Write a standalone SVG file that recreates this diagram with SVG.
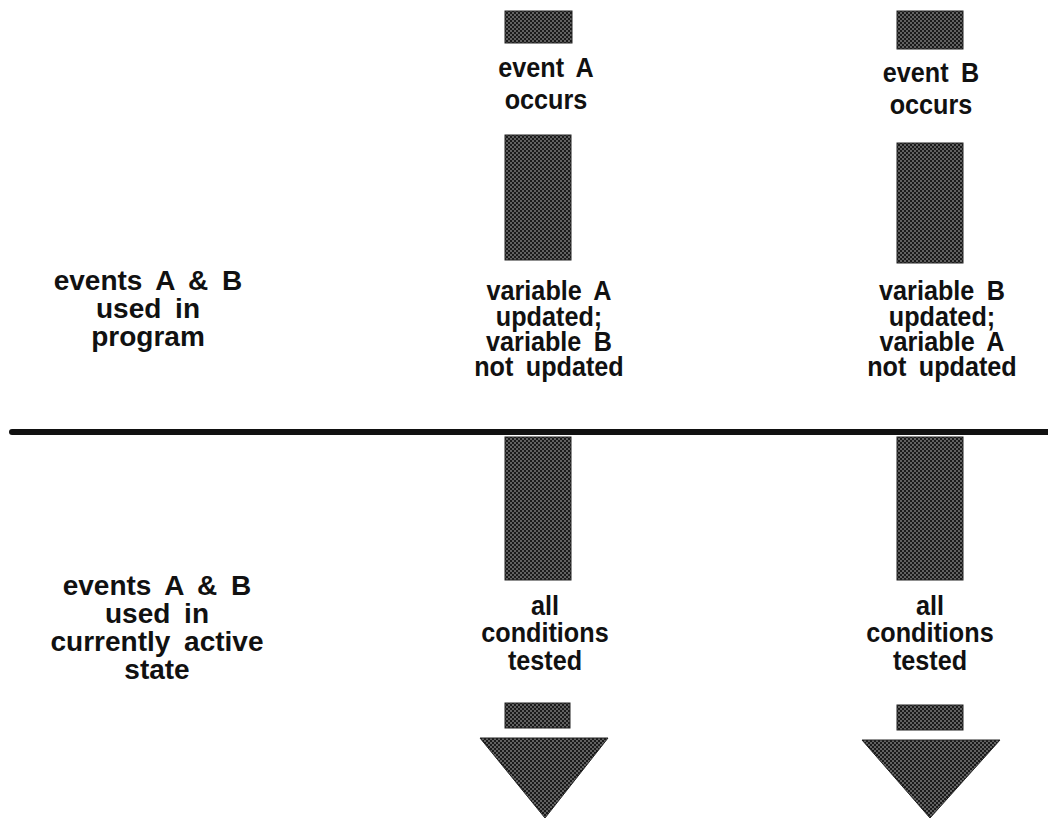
<svg xmlns="http://www.w3.org/2000/svg" width="1048" height="818" viewBox="0 0 1048 818">
<defs>
<pattern id="stip" width="4" height="4" patternUnits="userSpaceOnUse">
<rect width="4" height="4" fill="#1a1a1a"/>
<circle cx="1" cy="1" r="0.8" fill="#bbb"/>
<circle cx="3" cy="3" r="0.8" fill="#bbb"/>
</pattern>
<style>
.t{font-family:"Liberation Sans",Arial,sans-serif;font-weight:bold;font-size:28px;fill:#111;text-anchor:middle;word-spacing:6px}
.s{fill:url(#stip);stroke:#222;stroke-width:1}
</style>
</defs>
<rect width="1048" height="818" fill="#fff"/>
<g id="labels-left">
<text class="t" x="148" y="290">events A &amp; B</text>
<text class="t" x="148" y="318">used in</text>
<text class="t" x="148" y="346">program</text>
<text class="t" x="157" y="595">events A &amp; B</text>
<text class="t" x="157" y="623">used in</text>
<text class="t" x="157" y="651">currently active</text>
<text class="t" x="157" y="679">state</text>
</g>
<g id="divider">
<line x1="12" y1="432" x2="1048" y2="432" stroke="#111" stroke-width="6" stroke-linecap="round"/>
</g>
<g id="connectors">
<rect class="s" x="505" y="11" width="67" height="32"/>
<rect class="s" x="505" y="135" width="66" height="125"/>
<rect class="s" x="505" y="437" width="66" height="143"/>
<rect class="s" x="505" y="703" width="65" height="25"/>
<polygon class="s" points="480,738 608,738 545,818"/>
<rect class="s" x="897" y="11" width="66" height="38"/>
<rect class="s" x="897" y="143" width="66" height="120"/>
<rect class="s" x="897" y="437" width="66" height="143"/>
<rect class="s" x="897" y="705" width="66" height="25"/>
<polygon class="s" points="862,740 1000,740 930,818"/>
</g>
<g id="colA">
<g transform="matrix(0.9 0 0 1 54.6 0)">
<text class="t" x="546" y="77">event A</text>
<text class="t" x="546" y="109">occurs</text>
</g>
<g transform="matrix(0.9 0 0 1 54.9 0)">
<text class="t" x="549" y="300">variable A</text>
<text class="t" x="549" y="326">updated;</text>
<text class="t" x="549" y="351">variable B</text>
<text class="t" x="549" y="376">not updated</text>
</g>
<g transform="matrix(0.9 0 0 1 54.5 0)">
<text class="t" x="545" y="615">all</text>
<text class="t" x="545" y="642">conditions</text>
<text class="t" x="545" y="670">tested</text>
</g>
</g>
<g id="colB">
<g transform="matrix(0.9 0 0 1 93.1 0)">
<text class="t" x="931" y="82">event B</text>
<text class="t" x="931" y="114">occurs</text>
</g>
<g transform="matrix(0.9 0 0 1 94.2 0)">
<text class="t" x="942" y="300">variable B</text>
<text class="t" x="942" y="326">updated;</text>
<text class="t" x="942" y="351">variable A</text>
<text class="t" x="942" y="376">not updated</text>
</g>
<g transform="matrix(0.9 0 0 1 93 0)">
<text class="t" x="930" y="615">all</text>
<text class="t" x="930" y="642">conditions</text>
<text class="t" x="930" y="670">tested</text>
</g>
</g>
</svg>
